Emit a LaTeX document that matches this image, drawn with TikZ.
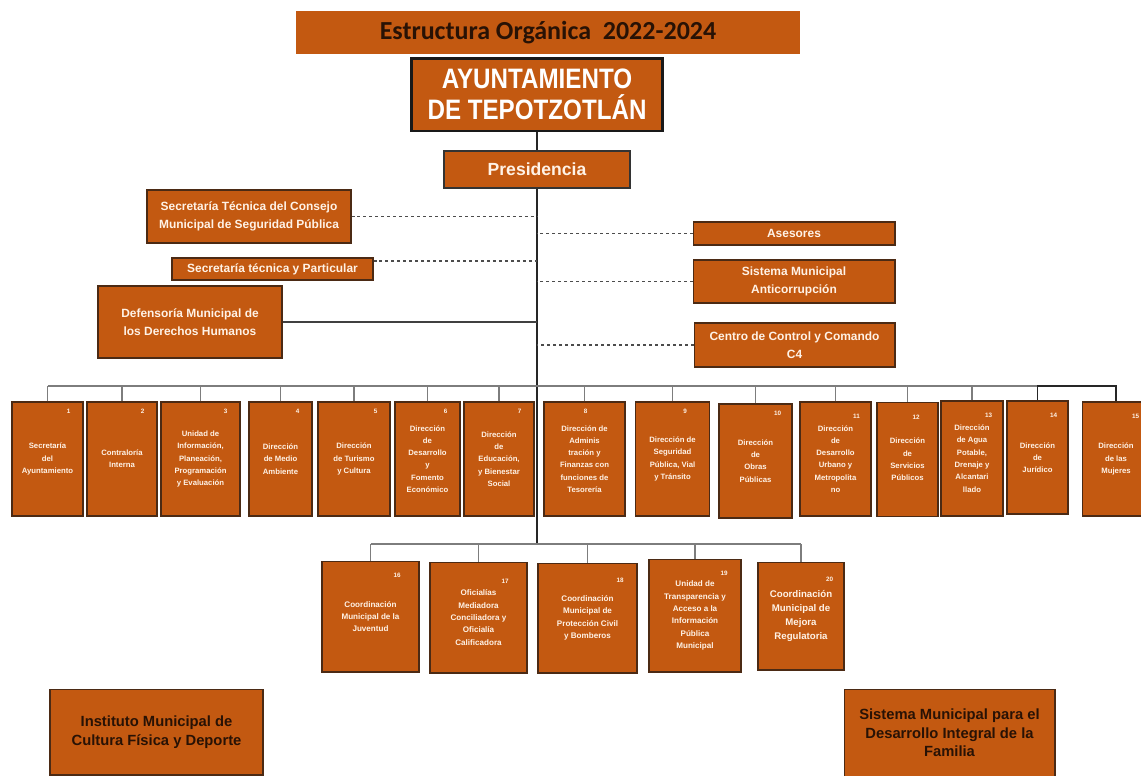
\documentclass[tikz,border=0pt]{standalone}
\usepackage{fontspec}
\setmainfont{Liberation Sans}
\newfontfamily\titlefont{Carlito}
\newfontfamily\narrowfont[FakeStretch=0.86]{Liberation Sans}
\definecolor{orgfill}{RGB}{195,89,17}
\definecolor{orgline}{RGB}{75,42,20}
\definecolor{orgtext}{RGB}{255,242,230}
\definecolor{darktext}{RGB}{40,18,5}
\definecolor{busgray}{RGB}{125,125,125}

\begin{document}
\begin{tikzpicture}[x=0.02cm,y=-0.02cm,
  box/.style={draw=orgline,fill=orgfill,line width=0.6pt,align=center,inner sep=1pt,text=orgtext},
  staff/.style={box,font=\bfseries\fontsize{6.8}{10}\selectfont},
  dept/.style={box,minimum height=2.28cm,font=\bfseries\fontsize{4.4}{7}\selectfont},
  coord/.style={box,font=\bfseries\fontsize{4.6}{7}\selectfont},
  ext/.style={box,text=darktext,font=\bfseries\fontsize{8.4}{10.5}\selectfont},
  num/.style={text=orgtext,font=\bfseries\fontsize{3.6}{4}\selectfont,inner sep=0pt},
  spine/.style={draw=black!85,line width=1.1pt},
  bus/.style={draw=busgray,line width=0.8pt},
  staffline/.style={draw=black!70,dash pattern=on 1.7pt off 1.7pt,line width=0.6pt}]
\useasboundingbox[fill=white] (0,0) rectangle (1141,775);

% cabecera
\node[fill=orgfill,minimum width=10.08cm,minimum height=0.86cm,text=darktext,font=\titlefont\bfseries\fontsize{14.8}{16}\selectfont] (title) at (548,32.5) {Estructura Orgánica\ \ 2022-2024};
\node[box,draw=black!90,line width=1.7pt,minimum width=5.04cm,minimum height=1.46cm,text=white,font=\narrowfont\bfseries\fontsize{16}{17.5}\selectfont] (ayunt) at (537,94.5) {AYUNTAMIENTO\\DE TEPOTZOTLÁN};
\node[box,draw=black!80,line width=1pt,minimum width=3.72cm,minimum height=0.74cm,font=\bfseries\fontsize{10}{12}\selectfont] (pres) at (537,169.5) {Presidencia};
\coordinate (spineEnd) at (537,544);

% staff izquierda
\node[staff,minimum width=4.08cm,minimum height=1.06cm] (stcm) at (249,216.5) {Secretaría Técnica del Consejo\\Municipal de Seguridad Pública};
\node[staff,minimum width=4.02cm,minimum height=0.44cm] (stp) at (272.5,269) {Secretaría técnica y Particular};
\node[staff,minimum width=3.68cm,minimum height=1.44cm] (defen) at (190,322) {Defensoría Municipal de\\los Derechos Humanos};

% staff derecha
\node[staff,minimum width=4.04cm,minimum height=0.46cm] (ases) at (794,233.5) {Asesores};
\node[staff,minimum width=4.04cm,minimum height=0.86cm] (sma) at (794,281.5) {Sistema Municipal\\Anticorrupción};
\node[staff,minimum width=4.02cm,minimum height=0.88cm] (cc4) at (794.5,345) {Centro de Control y Comando\\C4};

% direcciones
\node[dept,minimum width=1.42cm] (d1) at (47.5,459) {Secretaría\\del\\Ayuntamiento};
\node[dept,minimum width=1.40cm] (d2) at (122,459) {Contraloría\\Interna};
\node[dept,minimum width=1.58cm] (d3) at (200.5,459) {Unidad de\\Información,\\Planeación,\\Programación\\y Evaluación};
\node[dept,minimum width=1.26cm] (d4) at (280.5,459) {Dirección\\de Medio\\Ambiente};
\node[dept,minimum width=1.44cm] (d5) at (354,459) {Dirección\\de Turismo\\y Cultura};
\node[dept,minimum width=1.30cm] (d6) at (427.5,459) {Dirección\\de\\Desarrollo\\y\\Fomento\\Económico};
\node[dept,minimum width=1.40cm] (d7) at (499,459) {Dirección\\de\\Educación,\\y Bienestar\\Social};
\node[dept,minimum width=1.62cm] (d8) at (584.5,459) {Dirección de\\Adminis\\tración y\\Finanzas con\\funciones de\\Tesorería};
\node[dept,minimum width=1.48cm] (d9) at (672.5,459) {Dirección de\\Seguridad\\Pública, Vial\\y Tránsito};
\node[dept,minimum width=1.46cm] (d10) at (755.5,461) {Dirección\\de\\Obras\\Públicas};
\node[dept,minimum width=1.42cm] (d11) at (835.5,459) {Dirección\\de\\Desarrollo\\Urbano y\\Metropolita\\no};
\node[dept,minimum width=1.22cm] (d12) at (907.5,459.5) {Dirección\\de\\Servicios\\Públicos};
\node[dept,minimum width=1.24cm,minimum height=2.30cm] (d13) at (972,458.5) {Dirección\\de Agua\\Potable,\\Drenaje y\\Alcantari\\llado};
\node[dept,minimum width=1.22cm,minimum height=2.26cm] (d14) at (1037.5,457.5) {Dirección\\de\\Jurídico};
\node[dept,minimum width=1.36cm] (d15) at (1116,459) {Dirección\\de las\\Mujeres};

\node[num] (n1) at ([xshift=-0.3cm,yshift=-0.2cm]d1.north east) {1};
\node[num] (n2) at ([xshift=-0.3cm,yshift=-0.2cm]d2.north east) {2};
\node[num] (n3) at ([xshift=-0.3cm,yshift=-0.2cm]d3.north east) {3};
\node[num] (n4) at ([xshift=-0.3cm,yshift=-0.2cm]d4.north east) {4};
\node[num] (n5) at ([xshift=-0.3cm,yshift=-0.2cm]d5.north east) {5};
\node[num] (n6) at ([xshift=-0.3cm,yshift=-0.2cm]d6.north east) {6};
\node[num] (n7) at ([xshift=-0.3cm,yshift=-0.2cm]d7.north east) {7};
\node[num] (n8) at ([xshift=-0.8cm,yshift=-0.2cm]d8.north east) {8};
\node[num] (n9) at ([xshift=-0.5cm,yshift=-0.2cm]d9.north east) {9};
\node[num] (n10) at ([xshift=-0.3cm,yshift=-0.2cm]d10.north east) {10};
\node[num] (n11) at ([xshift=-0.3cm,yshift=-0.3cm]d11.north east) {11};
\node[num] (n12) at ([xshift=-0.45cm,yshift=-0.3cm]d12.north east) {12};
\node[num] (n13) at ([xshift=-0.3cm,yshift=-0.3cm]d13.north east) {13};
\node[num] (n14) at ([xshift=-0.3cm,yshift=-0.3cm]d14.north east) {14};
\node[num] (n15) at ([xshift=-0.3cm,yshift=-0.3cm]d15.north east) {15};

% coordinaciones
\node[coord,minimum width=1.94cm,minimum height=2.22cm] (c16) at (370.5,616.5) {Coordinación\\Municipal de la\\Juventud};
\node[coord,minimum width=1.94cm,minimum height=2.22cm] (c17) at (478.5,617.5) {Oficialías\\Mediadora\\Conciliadora y\\Oficialía\\Calificadora};
\node[coord,minimum width=1.98cm,minimum height=2.20cm] (c18) at (587.5,618) {Coordinación\\Municipal de\\Protección Civil\\y Bomberos};
\node[coord,minimum width=1.84cm,minimum height=2.26cm] (c19) at (695,615.5) {Unidad de\\Transparencia y\\Acceso a la\\Información\\Pública\\Municipal};
\node[coord,minimum width=1.72cm,minimum height=2.16cm,font=\bfseries\fontsize{5.5}{8}\selectfont] (c20) at (801,616) {Coordinación\\Municipal de\\Mejora\\Regulatoria};

\node[num] (n16) at ([xshift=-0.45cm,yshift=-0.3cm]c16.north east) {16};
\node[num] (n17) at ([xshift=-0.45cm,yshift=-0.4cm]c17.north east) {17};
\node[num] (n18) at ([xshift=-0.35cm,yshift=-0.35cm]c18.north east) {18};
\node[num] (n19) at ([xshift=-0.35cm,yshift=-0.3cm]c19.north east) {19};
\node[num] (n20) at ([xshift=-0.3cm,yshift=-0.35cm]c20.north east) {20};

% organismos descentralizados
\node[ext,minimum width=4.26cm,minimum height=1.72cm] (imcufide) at (156.5,732) {Instituto Municipal de\\Cultura Física y Deporte};
\node[ext,minimum width=4.22cm,minimum height=1.76cm] (dif) at (949.5,733) {Sistema Municipal para el\\Desarrollo Integral de la\\Familia};

% lineas de mando
\draw[spine] (ayunt) -- (pres);
\draw[spine] (pres.south) -- (spineEnd);
\draw[staffline] (stcm.east) -- (stcm.east -| spineEnd);
\draw[staffline] ([yshift=0.16cm]stp.east) -- ([yshift=0.16cm]stp.east -| spineEnd);
\draw[draw=black!75,line width=0.7pt] (defen.east) -- (defen.east -| spineEnd);
\draw[staffline] (ases.west) -- (ases.west -| spineEnd);
\draw[staffline] (sma.west) -- (sma.west -| spineEnd);
\draw[staffline] (cc4.west) -- (cc4.west -| spineEnd);

\coordinate (busL) at (47.5,386);
\coordinate (busR) at (1116,386);
\draw[bus] (busL) -- (busR);
\draw[bus] (d1.north) -- (d1.north |- busL);
\draw[bus] (d2.north) -- (d2.north |- busL);
\draw[bus] (d3.north) -- (d3.north |- busL);
\draw[bus] (d4.north) -- (d4.north |- busL);
\draw[bus] (d5.north) -- (d5.north |- busL);
\draw[bus] (d6.north) -- (d6.north |- busL);
\draw[bus] (d7.north) -- (d7.north |- busL);
\draw[bus] (d8.north) -- (d8.north |- busL);
\draw[bus] (d9.north) -- (d9.north |- busL);
\draw[bus] (d10.north) -- (d10.north |- busL);
\draw[bus] (d11.north) -- (d11.north |- busL);
\draw[bus] (d12.north) -- (d12.north |- busL);
\draw[bus] (d13.north) -- (d13.north |- busL);
\draw[bus,draw=black!85] (d14.north) |- (d15.north |- busL) -- (d15.north);

\coordinate (lbusL) at (370.5,544);
\coordinate (lbusR) at (801,544);
\draw[bus] (lbusL) -- (lbusR);
\draw[bus] (c16.north) -- (c16.north |- lbusL);
\draw[bus] (c17.north) -- (c17.north |- lbusL);
\draw[bus] (c18.north) -- (c18.north |- lbusL);
\draw[bus] (c19.north) -- (c19.north |- lbusL);
\draw[bus] (c20.north) -- (c20.north |- lbusL);
\end{tikzpicture}
\end{document}
